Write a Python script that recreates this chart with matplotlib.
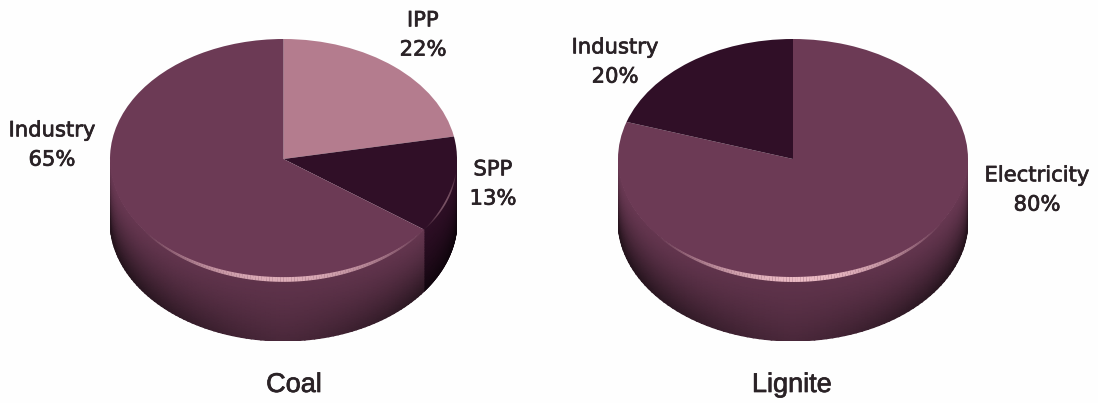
import numpy as np
import matplotlib
matplotlib.use("Agg")
import matplotlib.pyplot as plt
import matplotlib.patheffects as pe
from matplotlib.collections import LineCollection
from matplotlib.colors import LinearSegmentedColormap, to_rgb

W, H = 1098, 403

coal_names = ["IPP", "SPP", "Industry"]
coal_values = [22, 13, 65]
coal_colors = ["#b47c8e", "#300f27", "#6c3a55"]

lignite_names = ["Electricity", "Industry"]
lignite_values = [80, 20]
lignite_colors = ["#6c3a55", "#300f27"]

titles = ["Coal", "Lignite"]
DEPTH = 62 / 120
INK = "#2a2226"


def side_wall(ax, t1, t2, color):
    # lit from the front, edges and bottom go dark
    th = np.radians(np.linspace(t1, t2, 90))
    z = np.linspace(0, 1, 24)
    T, Z = np.meshgrid(th, z)
    X = np.cos(T)
    Y = np.sin(T) - Z * DEPTH
    f = 1 - Z**1.4 * (0.2 + 0.45 * np.abs(np.cos(T))**1.3) - 0.12 * np.sin(-T)
    base = np.array(to_rgb(color))
    cmap = LinearSegmentedColormap.from_list("w", [base * 0.25, base])
    ax.pcolormesh(X, Y, f, cmap=cmap, vmin=0.25, vmax=1, shading="gouraud", zorder=1)


def highlight(ax, t1, t2, peak, width):
    th = np.radians(np.linspace(t1, t2, 120))
    x, y = np.cos(th), np.sin(th) - 0.004
    pts = np.column_stack([x, y]).reshape(-1, 1, 2)
    segs = np.concatenate([pts[:-1], pts[1:]], axis=1)
    s = np.sin((th[:-1] - th[0]) / (th[-1] - th[0]) * np.pi) ** 1.1
    rgba = np.zeros((len(s), 4))
    rgba[:, :3] = to_rgb("#ecbcc5")
    rgba[:, 3] = s * peak
    ax.add_collection(LineCollection(segs, colors=rgba, linewidths=0.4 + s * width,
                                     zorder=4, capstyle="butt"))


def draw_pie(fig, cx, rx, values, colors):
    top, bottom = 39, 341
    ax = fig.add_axes([(cx - rx) / W, 1 - bottom / H, 2 * rx / W, (bottom - top) / H])
    wedges, _ = ax.pie(values, colors=colors, startangle=90, counterclock=False,
                       radius=1, wedgeprops={"linewidth": 0, "zorder": 3})
    ax.set_aspect("auto")
    ax.set_xlim(-1, 1)
    ax.set_ylim(-1 - DEPTH, 1)
    for w, c in zip(wedges, colors):
        for k in (-360, 0):
            a, b = max(w.theta1 + k, -180), min(w.theta2 + k, 0)
            if b > a:
                side_wall(ax, a, b, c)
    return ax


fig = plt.figure(figsize=(W / 100, H / 100), dpi=100, facecolor="#fefefe")

ax1 = draw_pie(fig, 283.5, 173.5, coal_values, coal_colors)
highlight(ax1, -145, -36, 0.9, 3.0)
highlight(ax1, -36, -6, 0.45, 0.8)
ax2 = draw_pie(fig, 793, 175, lignite_values, lignite_colors)
highlight(ax2, -142, -32, 1.0, 3.2)

stroke = [pe.withStroke(linewidth=0.5, foreground=INK)]
label_pos = {
    "coal": [(423, 35), (493, 184), (52, 145)],
    "lignite": [(1037, 190), (615, 62)],
}
for names, vals, pos in [(coal_names, coal_values, label_pos["coal"]),
                         (lignite_names, lignite_values, label_pos["lignite"])]:
    for n, v, (x, y) in zip(names, vals, pos):
        fig.text(x / W, 1 - y / H, f"{n}\n{v}%", ha="center", va="center",
                 fontsize=15.2, color=INK, linespacing=1.58, path_effects=stroke)

fig.text(294 / W, 1 - 385 / H, titles[0], ha="center", va="center", fontsize=19.5,
         color=INK, family="Liberation Sans", path_effects=stroke)
fig.text(792 / W, 1 - 385 / H, titles[1], ha="center", va="center", fontsize=19.5,
         color=INK, family="Liberation Sans", path_effects=stroke)

fig.savefig("out.png", dpi=100, facecolor=fig.get_facecolor())
